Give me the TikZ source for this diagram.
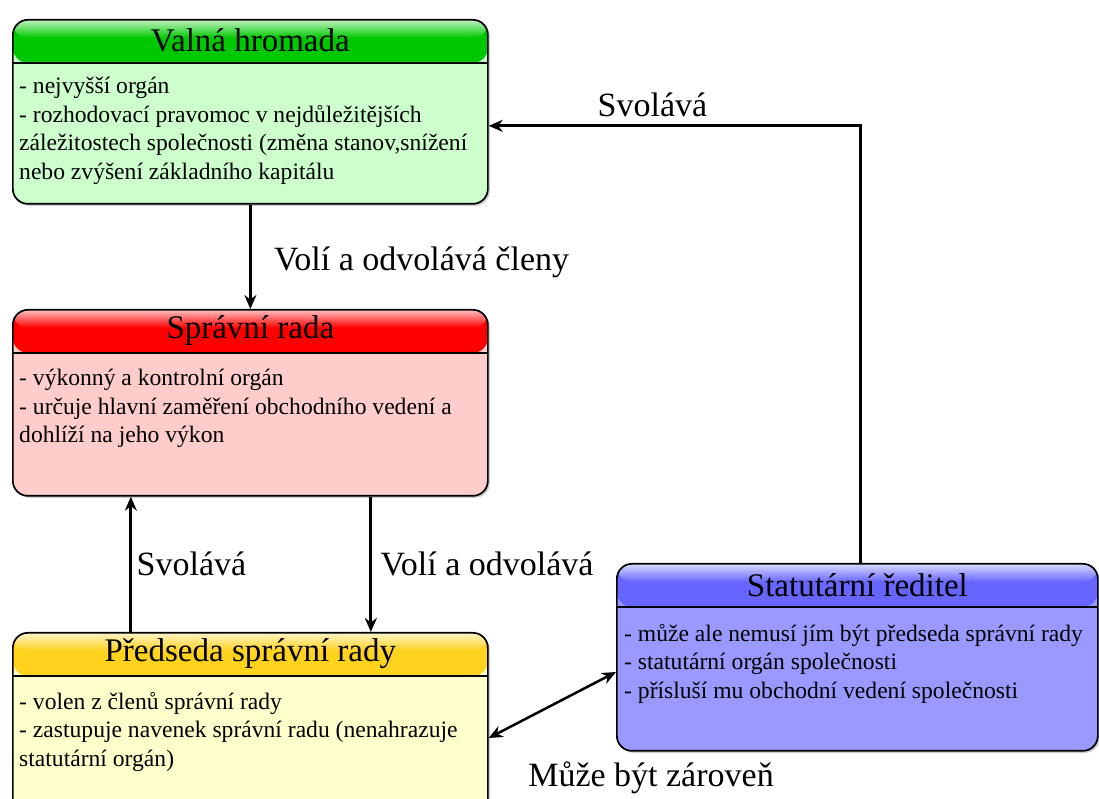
\documentclass[tikz,border=0pt]{standalone}
\usepackage{fontspec}
\setmainfont{Liberation Serif}
\usetikzlibrary{positioning,calc,shadows,arrows.meta}
\definecolor{vhhead}{HTML}{00C800}
\definecolor{vhbody}{HTML}{CCFFCC}
\definecolor{srhead}{HTML}{FF0000}
\definecolor{srbody}{HTML}{FFCCCC}
\definecolor{prhead}{HTML}{FFD21E}
\definecolor{prbody}{HTML}{FFFFCC}
\definecolor{sredhead}{HTML}{6666FF}
\definecolor{sredbody}{HTML}{9999FF}

\begin{document}
\begin{tikzpicture}[x=1pt, y=1pt,
    orgbox/.style 2 args={draw=black, line width=1.7pt, rounded corners=15pt,
      anchor=north west, inner sep=0pt, minimum width=475pt, fill=#2,
      drop shadow={shadow xshift=2pt, shadow yshift=-2pt, opacity=.4},
      path picture={
        \fill[#1] (path picture bounding box.north west) rectangle ([yshift=-43pt]path picture bounding box.north east);
        \shade[top color=#1!25!white, bottom color=#1]
          (path picture bounding box.north west) rectangle ([yshift=-18pt]path picture bounding box.north east);
        \draw[line width=1.7pt] ([yshift=-43pt]path picture bounding box.north west)
          -- ([yshift=-43pt]path picture bounding box.north east);}},
    boxtitle/.style={font=\fontsize{33}{36}\selectfont, inner sep=0pt},
    boxtext/.style={font=\fontsize{23.6}{28.5}\selectfont, align=left, anchor=north west, inner sep=0pt},
    lbl/.style={font=\fontsize{34}{38}\selectfont},
    link/.style={line width=3pt, -{Stealth[length=14pt, width=12pt]}}]
  \useasboundingbox (0,0) rectangle (1099,799);

  % boxes
  \node[orgbox={vhhead}{vhbody}, minimum height=184pt] (vh) at (12,780) {};
  \node[boxtitle] (vh-title) at ([yshift=-21.5pt]vh.north) {Valná hromada};
  \node[boxtext] (vh-text) at ([xshift=7pt, yshift=-58pt]vh.north west)
    {- nejvyšší orgán\\- rozhodovací pravomoc v nejdůležitějších\\záležitostech společnosti (změna stanov,snížení\\nebo zvýšení základního kapitálu};

  \node[orgbox={srhead}{srbody}, minimum height=186pt] (sr) at (12,490) {};
  \node[boxtitle] (sr-title) at ([yshift=-21.5pt]sr.north) {Správní rada};
  \node[boxtext] (sr-text) at ([xshift=7pt, yshift=-60pt]sr.north west)
    {- výkonný a kontrolní orgán\\- určuje hlavní zaměření obchodního vedení a\\dohlíží na jeho výkon};

  \node[orgbox={prhead}{prbody}, minimum height=200pt] (pr) at (12,167) {};
  \node[boxtitle] (pr-title) at ([yshift=-21.5pt]pr.north) {Předseda správní rady};
  \node[boxtext] (pr-text) at ([xshift=7pt, yshift=-60pt]pr.north west)
    {- volen z členů správní rady\\- zastupuje navenek správní radu (nenahrazuje\\statutární orgán)};

  \node[orgbox={sredhead}{sredbody}, minimum height=187pt, minimum width=481pt] (sred) at (616,236) {};
  \node[boxtitle] (sred-title) at ([yshift=-22pt]sred.north) {Statutární ředitel};
  \node[boxtext] (sred-text) at ([xshift=8pt, yshift=-61pt]sred.north west)
    {- může ale nemusí jím být předseda správní rady\\- statutární orgán společnosti\\- přísluší mu obchodní vedení společnosti};

  % connectors
  \draw[link] (vh.south) -- node[lbl, right=19pt, yshift=-6pt] (l-vh) {Volí a odvolává členy} (sr.north);
  \draw[link] ([xshift=120.5pt]sr.south) -- node[lbl, right=5pt] (l-sr) {Volí a odvolává} ([xshift=120.5pt]pr.north);
  \draw[link] ([xshift=-119.5pt]pr.north) -- node[lbl, right=1pt] (l-pr) {Svolává} ([xshift=-119.5pt]sr.south);
  \draw[link] ([xshift=3.5pt]sred.north) |- node[lbl, above=4pt, pos=.78] (l-sred) {Svolává} ([yshift=-14pt]vh.east);
  \draw[link, line width=2.5pt, {Stealth[length=14pt, width=12pt]}-{Stealth[length=14pt, width=12pt]}] ([yshift=-106pt]pr.north east) -- ([yshift=-109pt]sred.north west);
  \node[lbl] (l-both) at (651,21) {Může být zároveň};
\end{tikzpicture}
\end{document}
